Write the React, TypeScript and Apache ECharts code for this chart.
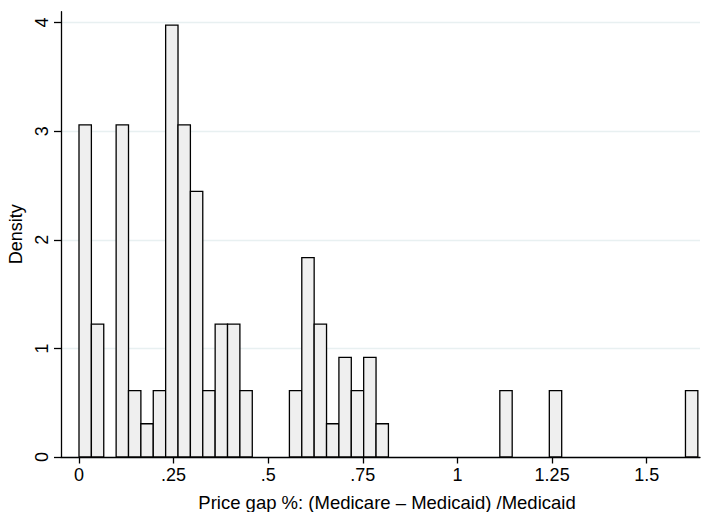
import React, { useEffect, useRef } from "react";
import * as echarts from "echarts";

// Histogram of price gap (Medicare - Medicaid)/Medicaid, density scale, N=100, 50 bins
const binWidth = 0.0327;
const binStarts = [
  0, 0.0327, 0.0981, 0.1308, 0.1635, 0.1962, 0.2289, 0.2616, 0.2943, 0.327,
  0.3597, 0.3924, 0.4251, 0.5559, 0.5886, 0.6213, 0.654, 0.6867, 0.7194,
  0.7521, 0.7848, 1.1118, 1.2426, 1.6023,
];
const densities = [
  3.058, 1.223, 3.058, 0.612, 0.306, 0.612, 3.976, 3.058, 2.446, 0.612,
  1.223, 1.223, 0.612, 0.612, 1.835, 1.223, 0.306, 0.917, 0.612,
  0.917, 0.306, 0.612, 0.612, 0.612,
];
const xTicks = [0, 0.25, 0.5, 0.75, 1, 1.25, 1.5];
const yTicks = [0, 1, 2, 3, 4];
const xTitle = "Price gap %: (Medicare \u2013 Medicaid) /Medicaid";
const yTitle = "Density";

const FONT = "'Liberation Sans', Arial, Helvetica, sans-serif";

export default function App() {
  const ref = useRef<HTMLDivElement>(null);
  useEffect(() => {
    if (!ref.current) return;
    const chart = echarts.init(ref.current, undefined, { renderer: "svg" });
    const data = binStarts.map((s, i) => [s, s + binWidth, densities[i]]);
    chart.setOption({
      animation: false,
      backgroundColor: "#ffffff",
      grid: {
        left: 61,
        right: 2,
        top: 11.7,
        bottom: 55,
        containLabel: false,
        outerBoundsMode: "none",
      },
      xAxis: {
        type: "value",
        min: -0.04756,
        max: 1.6407,
        name: xTitle,
        nameLocation: "middle",
        nameGap: 36,
        nameTextStyle: {
          fontFamily: FONT,
          fontSize: 18.5,
          color: "#000",
          padding: [0, 0, 0, 13],
        },
        axisLine: { show: true, onZero: false, lineStyle: { color: "#000", width: 1.3 } },
        axisTick: {
          show: true,
          customValues: xTicks,
          length: 6.5,
          lineStyle: { color: "#000", width: 1.3 },
        },
        axisLabel: {
          customValues: xTicks,
          fontFamily: FONT,
          fontSize: 18,
          color: "#000",
          margin: 9,
          formatter: (v: number) =>
            v === 0 ? "0" : String(v).replace(/^0\./, "."),
        },
        splitLine: { show: false },
      },
      yAxis: {
        type: "value",
        min: 0,
        max: 4.1,
        name: yTitle,
        nameLocation: "middle",
        nameRotate: 90,
        nameGap: 36,
        nameTextStyle: { fontFamily: FONT, fontSize: 18, color: "#000" },
        axisLine: { show: true, onZero: false, lineStyle: { color: "#000", width: 1.3 } },
        axisTick: {
          show: true,
          customValues: yTicks,
          length: 7,
          lineStyle: { color: "#000", width: 1.3 },
        },
        axisLabel: {
          customValues: yTicks,
          rotate: 90,
          fontFamily: FONT,
          fontSize: 18,
          color: "#000",
          margin: 10,
        },
        splitLine: { show: true, lineStyle: { color: "#e8f0f1", width: 1.3 } },
      },
      series: [
        {
          type: "custom",
          data,
          encode: { x: [0, 1], y: 2 },
          renderItem: (params: any, api: any) => {
            const p0 = api.coord([api.value(0), api.value(2)]);
            const p1 = api.coord([api.value(1), 0]);
            return {
              type: "rect",
              shape: {
                x: p0[0],
                y: p0[1],
                width: p1[0] - p0[0],
                height: p1[1] - p0[1],
              },
              style: { fill: "#efefef", stroke: "#000", lineWidth: 1.3 },
            };
          },
        },
      ],
    });
    return () => chart.dispose();
  }, []);
  return <div ref={ref} style={{ width: 702, height: 512, position: "absolute", left: 0, top: 0 }} />;
}
